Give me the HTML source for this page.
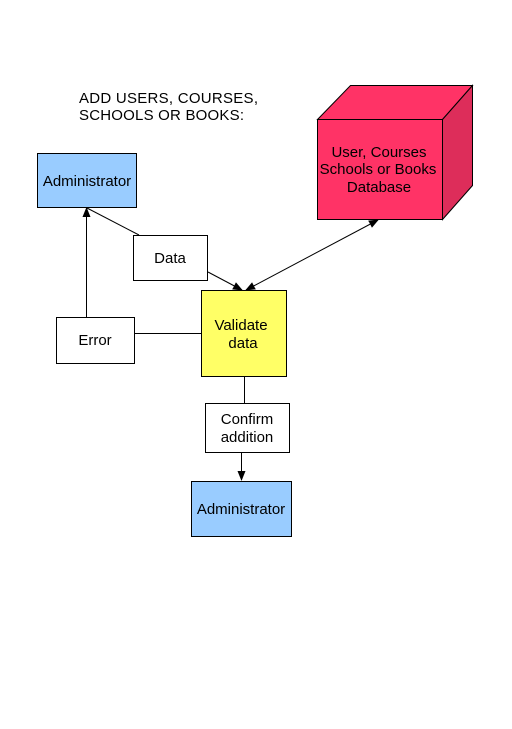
<!DOCTYPE html>
<html><head><style>
body{margin:0;background:#fff;}
svg text{font-family:"Liberation Sans",sans-serif;font-size:15px;fill:#000;}
</style></head><body>
<svg width="512" height="724" viewBox="0 0 512 724" xmlns="http://www.w3.org/2000/svg">
<defs><marker id="a" markerWidth="10" markerHeight="8" refX="9" refY="4" orient="auto" markerUnits="userSpaceOnUse"><path d="M0,0 L10,4 L0,8 z" fill="#000"/></marker>
<marker id="b" markerWidth="10" markerHeight="8" refX="1" refY="4" orient="auto" markerUnits="userSpaceOnUse"><path d="M10,0 L0,4 L10,8 z" fill="#000"/></marker></defs>
<text x="79" y="103" textLength="179">ADD USERS, COURSES,</text>
<text x="79" y="120" textLength="165">SCHOOLS OR BOOKS:</text>
<rect x="37.5" y="153.5" width="99" height="54" fill="#99ccff" stroke="#000"/>
<text x="87" y="186" text-anchor="middle">Administrator</text>
<polygon points="317.5,119.5 350.5,85.5 472.5,85.5 442.5,119.5" fill="#ff3366" stroke="#000"/>
<polygon points="442.5,119.5 472.5,85.5 472.5,185.5 442.5,219.5" fill="#dd2d5a" stroke="#000"/>
<rect x="317.5" y="119.5" width="125" height="100" fill="#ff3366" stroke="#000"/>
<text x="379" y="157" text-anchor="middle">User, Courses</text>
<text x="378" y="174" text-anchor="middle">Schools or Books</text>
<text x="379" y="192" text-anchor="middle">Database</text>
<line x1="87" y1="208" x2="139" y2="235" stroke="#000"/>
<line x1="208" y1="272" x2="242" y2="290" stroke="#000" marker-end="url(#a)"/>
<line x1="378" y1="220" x2="246" y2="290" stroke="#000" marker-start="url(#b)" marker-end="url(#a)"/>
<line x1="86.5" y1="317" x2="86.5" y2="208" stroke="#000" marker-end="url(#a)"/>
<line x1="134" y1="333.5" x2="201" y2="333.5" stroke="#000"/>
<line x1="244.5" y1="376" x2="244.5" y2="403" stroke="#000"/>
<line x1="241.5" y1="452" x2="241.5" y2="480" stroke="#000" marker-end="url(#a)"/>
<rect x="133.5" y="235.5" width="74" height="45" fill="#fff" stroke="#000"/>
<text x="170" y="263" text-anchor="middle">Data</text>
<rect x="201.5" y="290.5" width="85" height="86" fill="#ffff66" stroke="#000"/>
<text x="241" y="330" text-anchor="middle">Validate</text>
<text x="243" y="348" text-anchor="middle">data</text>
<rect x="56.5" y="317.5" width="78" height="46" fill="#fff" stroke="#000"/>
<text x="95" y="345" text-anchor="middle">Error</text>
<rect x="205.5" y="403.5" width="84" height="49" fill="#fff" stroke="#000"/>
<text x="247" y="424" text-anchor="middle">Confirm</text>
<text x="247" y="442" text-anchor="middle">addition</text>
<rect x="191.5" y="481.5" width="100" height="55" fill="#99ccff" stroke="#000"/>
<text x="241" y="514" text-anchor="middle">Administrator</text>
</svg>
</body></html>
